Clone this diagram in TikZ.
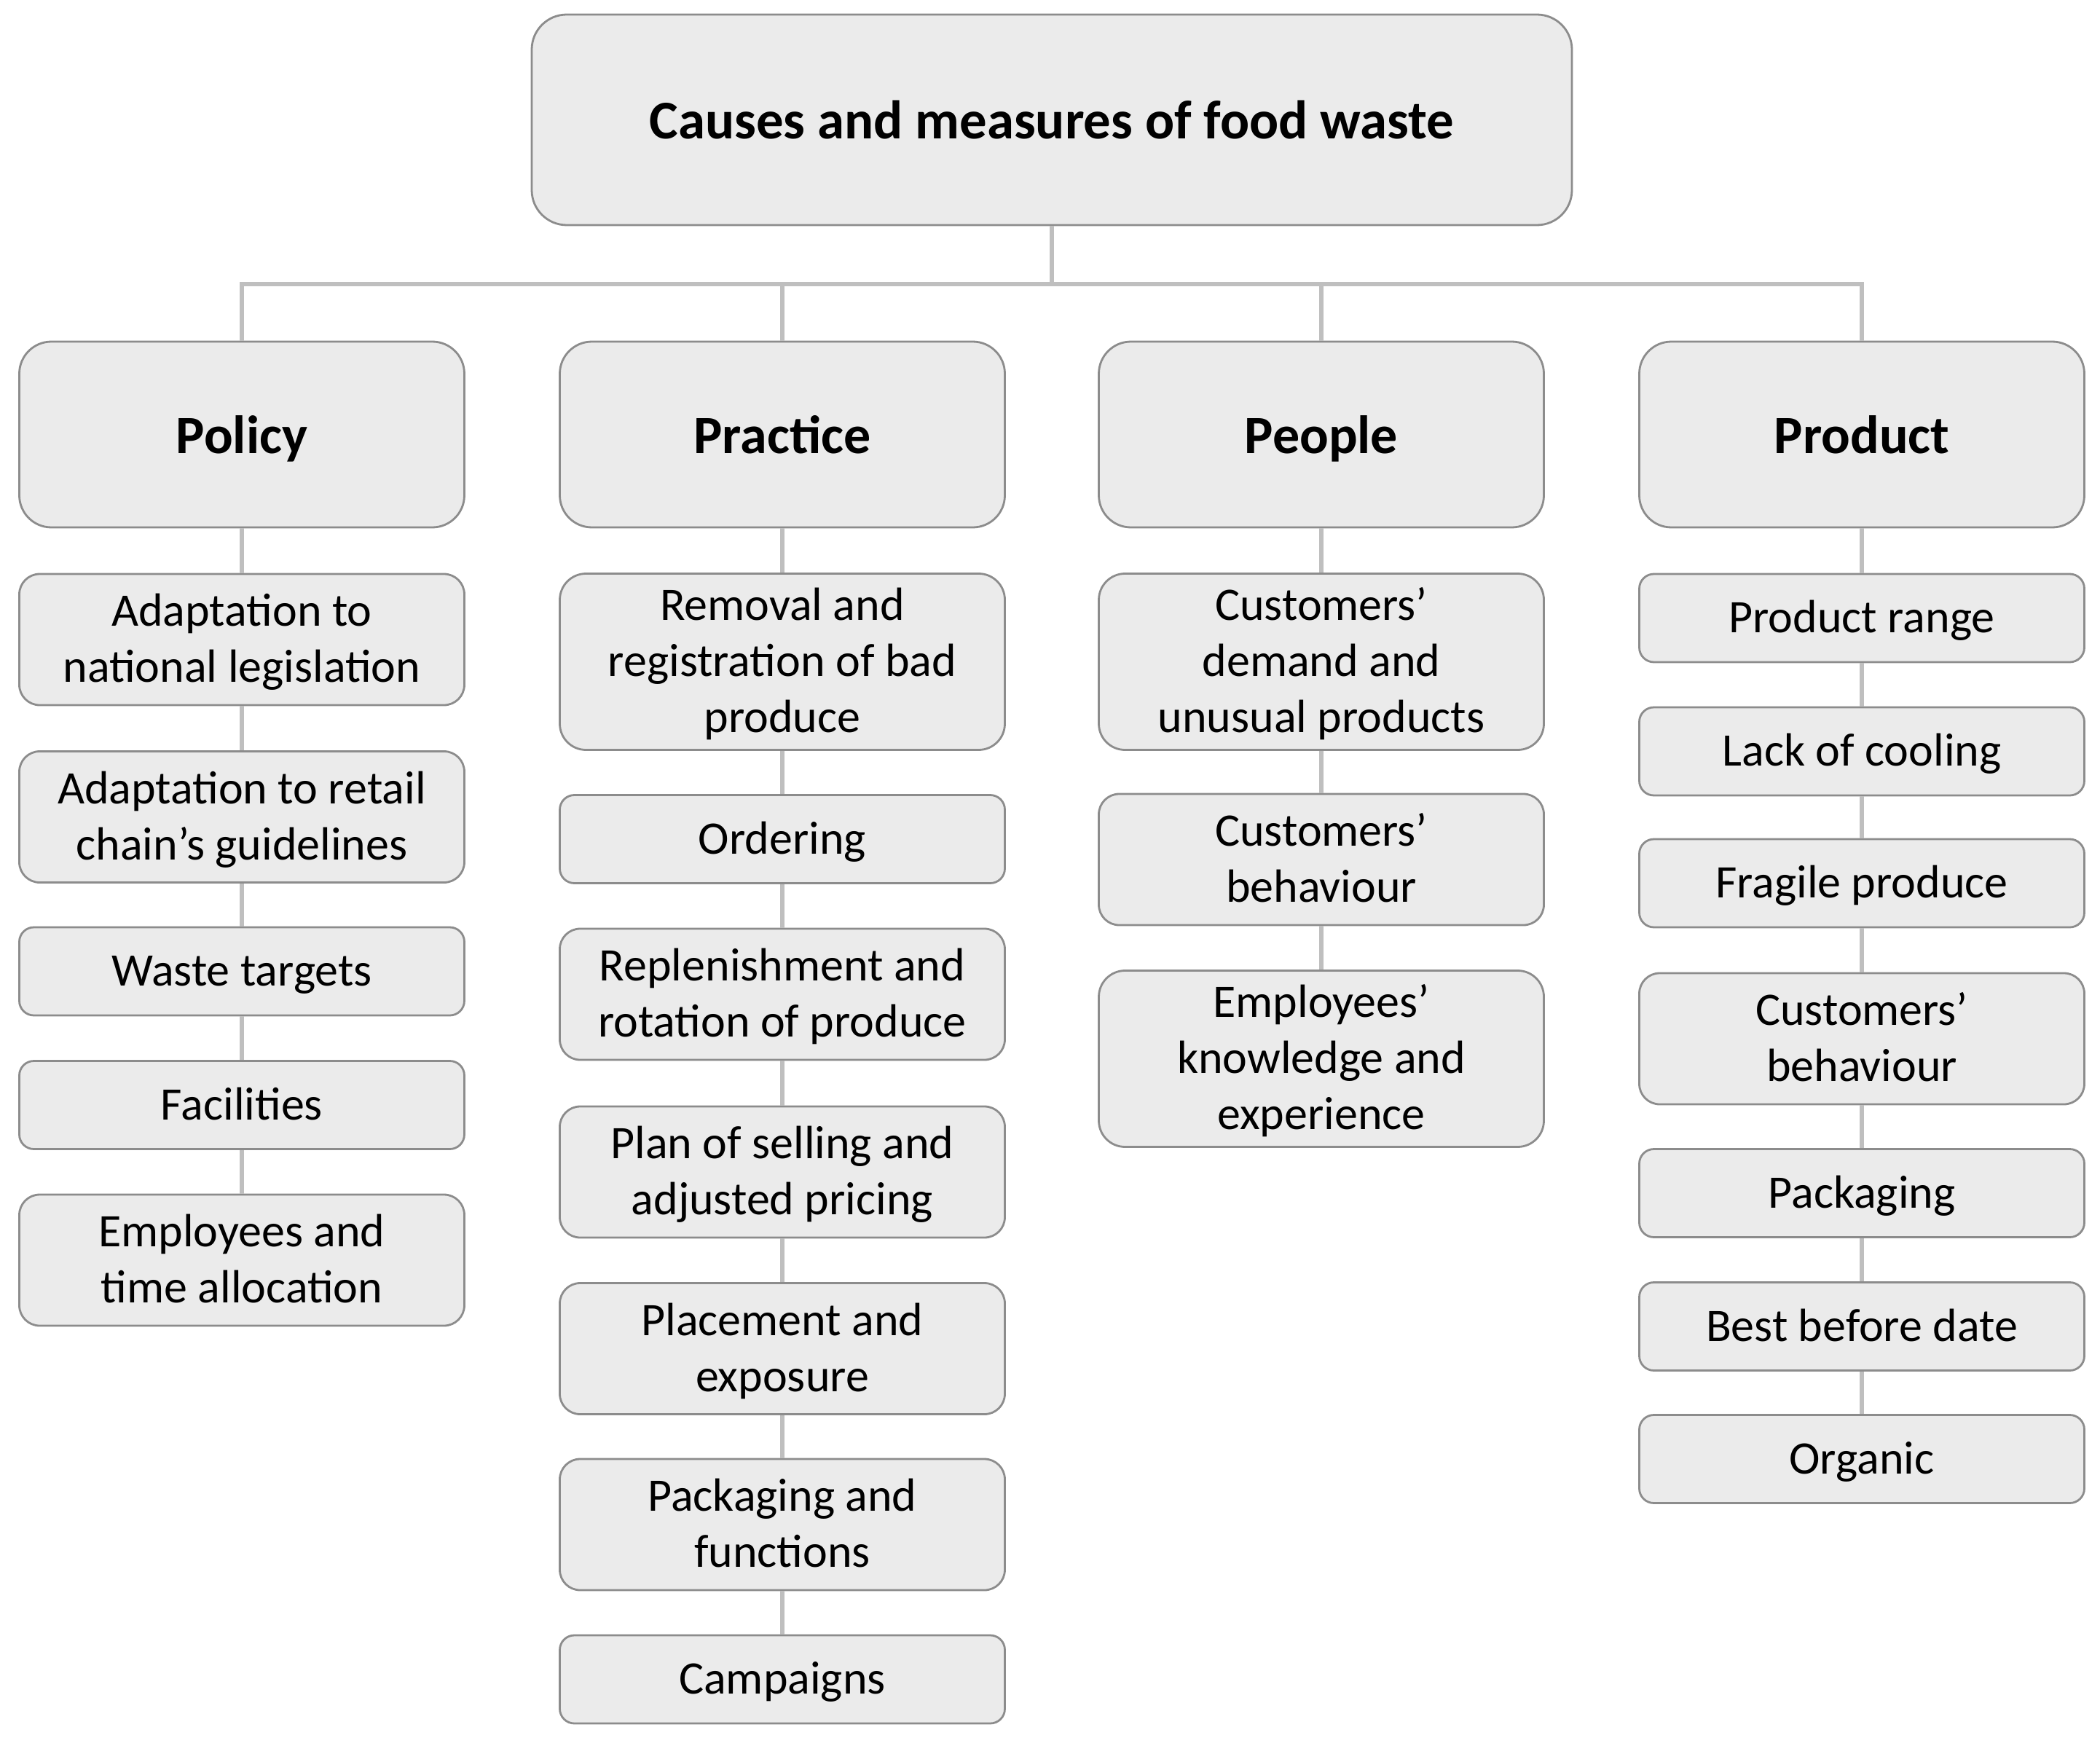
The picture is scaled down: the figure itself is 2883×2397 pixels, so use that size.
\documentclass[tikz,border=0pt]{standalone}
\usepackage{fontspec}
\setmainfont{Carlito}
\definecolor{boxfill}{HTML}{EBEBEB}
\definecolor{boxline}{HTML}{8C8C8C}
\definecolor{connline}{HTML}{BFBFBF}
\tikzset{
  box/.style={draw=boxline, fill=boxfill, line width=0.7pt, align=flush center,
    inner sep=0pt, text width=152.75pt, minimum height=30.25pt},
  itema/.style={box, rounded corners=5pt, font=\fontsize{16}{19.25}\selectfont,
    execute at begin node={\rule{0pt}{14pt}}, execute at end node={\rule[-4pt]{0pt}{0pt}}},
  itemb/.style={itema, minimum height=45pt, rounded corners=7pt},
  itemc/.style={itema, minimum height=60.5pt, rounded corners=9pt},
  headbox/.style={box, minimum height=63.75pt, rounded corners=11pt, font=\fontsize{18.5}{22}\selectfont\bfseries,
    text height=14pt, text depth=1pt},
  titlebox/.style={box, text width=357pt, minimum height=72.25pt, rounded corners=12pt, font=\fontsize{18.7}{22}\selectfont\bfseries},
  conn/.style={draw=connline, line width=1.5pt}
}
\begin{document}
\begin{tikzpicture}[x=0.25pt, y=-0.25pt]
\useasboundingbox (0,0) rectangle (2883,2397);
\coordinate (bar) at (1444,390);
% title
\node[titlebox] (title) at (1444,164.5) {Causes and measures of food waste};
% headers
\node[headbox] (pol) at (332,596.5) {Policy};
\node[headbox] (pra) at (1074,596.5) {Practice};
\node[headbox] (peo) at (1814,596.5) {People};
\node[headbox] (pro) at (2556,596.5) {Product};
% Policy
\node[itemb] (pol1) at (332,878) {Adaptation to\\national legislation};
\node[itemb] (pol2) at (332,1121.5) {Adaptation to retail\\chain’s guidelines};
\node[itema] (pol3) at (332,1333.5) {Waste targets};
\node[itema] (pol4) at (332,1517) {Facilities};
\node[itemb] (pol5) at (332,1730) {Employees and\\time allocation};
% Practice
\node[itemc] (pra1) at (1074,908.5) {Removal and\\registration of bad\\produce};
\node[itema] (pra2) at (1074,1152) {Ordering};
\node[itemb] (pra3) at (1074,1365) {Replenishment and\\rotation of produce};
\node[itemb] (pra4) at (1074,1609) {Plan of selling and\\adjusted pricing};
\node[itemb] (pra5) at (1074,1851.5) {Placement and\\exposure};
\node[itemb] (pra6) at (1074,2093) {Packaging and\\functions};
\node[itema] (pra7) at (1074,2305.5) {Campaigns};
% People
\node[itemc] (peo1) at (1814,908.5) {Customers’\\demand and\\unusual products};
\node[itemb] (peo2) at (1814,1180) {Customers’\\behaviour};
\node[itemc] (peo3) at (1814,1453.5) {Employees’\\knowledge and\\experience};
% Product
\node[itema] (pro1) at (2556,848.5) {Product range};
\node[itema] (pro2) at (2556,1031.5) {Lack of cooling};
\node[itema] (pro3) at (2556,1212.5) {Fragile produce};
\node[itemb] (pro4) at (2556,1426) {Customers’\\behaviour};
\node[itema] (pro5) at (2556,1638) {Packaging};
\node[itema] (pro6) at (2556,1821) {Best before date};
\node[itema] (pro7) at (2556,2003) {Organic};
% connectors
\draw[conn] (title.south) -- (bar);
\draw[conn] (pol.north) |- (bar);
\draw[conn] (pra.north) |- (bar);
\draw[conn] (peo.north) |- (bar);
\draw[conn] (pro.north) |- (bar);
\draw[conn] (pol.south) -- (pol1.north);
\draw[conn] (pol1.south) -- (pol2.north);
\draw[conn] (pol2.south) -- (pol3.north);
\draw[conn] (pol3.south) -- (pol4.north);
\draw[conn] (pol4.south) -- (pol5.north);
\draw[conn] (pra.south) -- (pra1.north);
\draw[conn] (pra1.south) -- (pra2.north);
\draw[conn] (pra2.south) -- (pra3.north);
\draw[conn] (pra3.south) -- (pra4.north);
\draw[conn] (pra4.south) -- (pra5.north);
\draw[conn] (pra5.south) -- (pra6.north);
\draw[conn] (pra6.south) -- (pra7.north);
\draw[conn] (peo.south) -- (peo1.north);
\draw[conn] (peo1.south) -- (peo2.north);
\draw[conn] (peo2.south) -- (peo3.north);
\draw[conn] (pro.south) -- (pro1.north);
\draw[conn] (pro1.south) -- (pro2.north);
\draw[conn] (pro2.south) -- (pro3.north);
\draw[conn] (pro3.south) -- (pro4.north);
\draw[conn] (pro4.south) -- (pro5.north);
\draw[conn] (pro5.south) -- (pro6.north);
\draw[conn] (pro6.south) -- (pro7.north);
\end{tikzpicture}
\end{document}
